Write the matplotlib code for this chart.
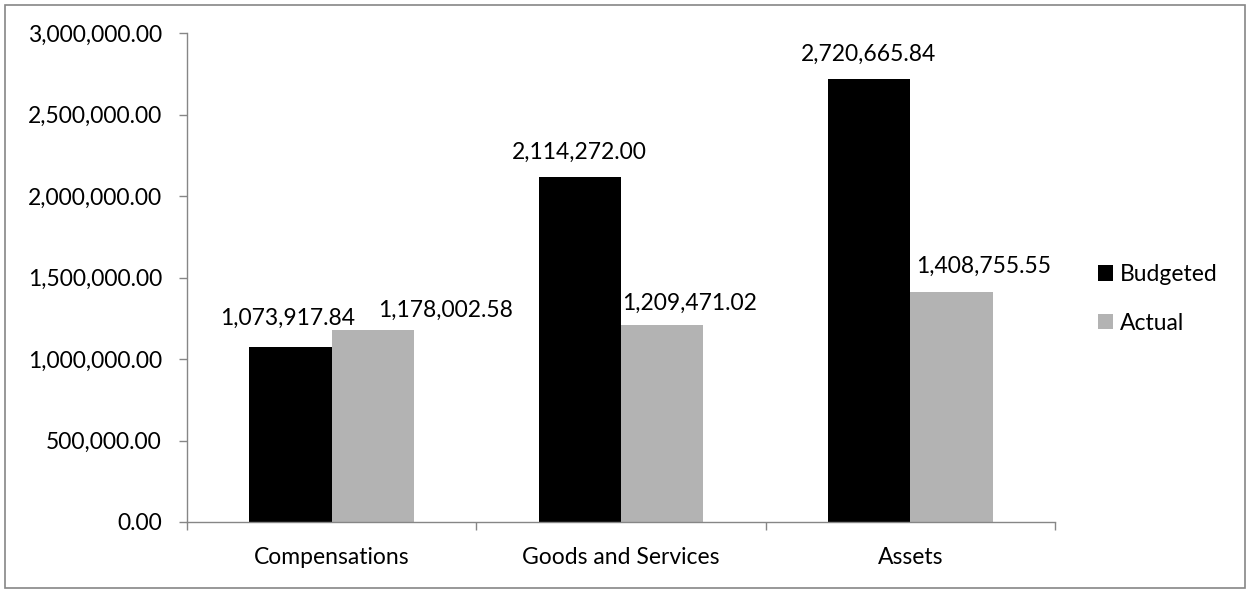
import matplotlib
matplotlib.use("Agg")
import matplotlib.pyplot as plt
from matplotlib.patches import Rectangle
from matplotlib.ticker import FuncFormatter, FixedLocator
import numpy as np

plt.rcParams['font.family'] = ['Lato', 'DejaVu Sans']

categories = ["Compensations", "Goods and Services", "Assets"]
budgeted = [1073917.84, 2114272.00, 2720665.84]
actual = [1178002.58, 1209471.02, 1408755.55]
series_names = ["Budgeted", "Actual"]
yticks = [0, 500000, 1000000, 1500000, 2000000, 2500000, 3000000]

# label offsets (pixels, dx from bar centre, dy baseline above bar top)
budget_label_off = [(-3, 22), (0, 19), (-1, 18)]
actual_label_off = [(73, 13), (27, 15), (32, 20)]

W, H = 1250, 590
fig = plt.figure(figsize=(W/100, H/100), dpi=100)
ax = fig.add_axes([187/W, 1-522/H, (1055-187)/W, (522-33)/H])

x = np.arange(len(categories))
w = 0.285
b1 = ax.bar(x - w/2, budgeted, w, color="black", label=series_names[0])
b2 = ax.bar(x + w/2, actual, w, color="#b3b3b3", label=series_names[1])

fs = 16.5
for bars, vals, offs in ((b1, budgeted, budget_label_off), (b2, actual, actual_label_off)):
    for r, v, (dx, dy) in zip(bars, vals, offs):
        ax.annotate(f"{v:,.2f}", (r.get_x() + r.get_width()/2, v),
                    xytext=(dx, dy), textcoords="offset pixels",
                    ha="center", va="baseline", fontsize=fs, color="black")

ax.set_xlim(-0.5, len(categories) - 0.5)
ax.set_ylim(0, 3000000)
ax.set_yticks(yticks)
ax.yaxis.set_major_formatter(FuncFormatter(lambda v, p: f"{v:,.2f}"))
ax.set_xticks(x)
ax.set_xticklabels(categories)
ax.xaxis.set_minor_locator(FixedLocator(np.arange(len(categories) + 1) - 0.5))
ax.tick_params(axis="x", which="major", length=0, pad=18, labelsize=fs)
ax.tick_params(axis="x", which="minor", length=6, direction="out", color="#868686", width=1)
ax.tick_params(axis="y", length=6, direction="out", color="#868686", width=1, pad=12, labelsize=fs)

for s in ("top", "right"):
    ax.spines[s].set_visible(False)
for s in ("left", "bottom"):
    ax.spines[s].set_color("#868686")
    ax.spines[s].set_linewidth(1)

leg = fig.legend(handles=[b1, b2], labels=series_names, loc="upper left",
                 bbox_to_anchor=(1098/W, 1-264/H), frameon=False,
                 fontsize=fs, handlelength=0.66, handleheight=0.66,
                 handletextpad=0.3, labelspacing=1.2, borderpad=0,
                 borderaxespad=0)

fig.patches.append(Rectangle((4.5/W, 2.5/H), 1240/W, 583/H,
                             transform=fig.transFigure, fill=False,
                             edgecolor="#868686", linewidth=1.2))

fig.savefig("out.png", dpi=100)
